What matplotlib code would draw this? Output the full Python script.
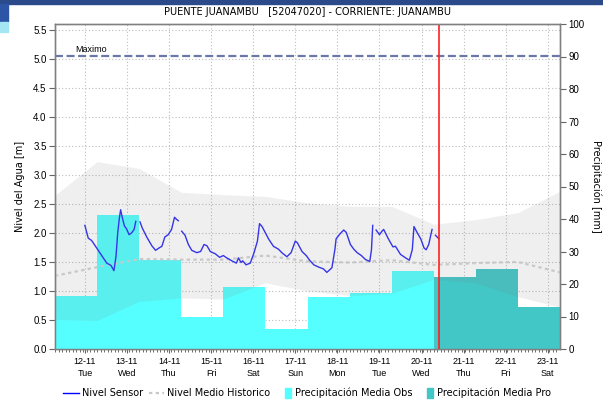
import numpy as np
import matplotlib.pyplot as plt
from matplotlib.patches import Rectangle
from matplotlib.lines import Line2D
from matplotlib.legend_handler import HandlerPatch

# days counted from 12-11 00:00
day_labels = ['12-11\nTue', '13-11\nWed', '14-11\nThu', '15-11\nFri', '16-11\nSat', '17-11\nSun',
              '18-11\nMon', '19-11\nTue', '20-11\nWed', '21-11\nThu', '22-11\nFri', '23-11\nSat']
t_start = -0.71
t_end = 11.29
t_now = 8.41

# daily precipitation [mm]
precip_obs = [16.4, 41.1, 27.4, 9.7, 19.2, 6.1, 16.0, 17.2, 24.1]
precip_pro = [22.2, 24.5, 13.0]

# historical level envelope at day boundaries [m]
hist_high = [2.65, 3.23, 3.11, 2.70, 2.66, 2.63, 2.52, 2.46, 2.46, 2.15, 2.23, 2.35, 2.72]
hist_low = [0.51, 0.49, 0.82, 0.88, 0.86, 1.14, 1.00, 0.92, 0.96, 1.20, 1.14, 0.90, 0.72]
hist_mean = [1.26, 1.41, 1.55, 1.54, 1.54, 1.61, 1.51, 1.49, 1.53, 1.45, 1.48, 1.50, 1.32]

nivel_max = 5.05

nan = np.nan
sensor_t = [0.00, 0.08, 0.16, 0.28, 0.40, 0.52, 0.62, 0.69, 0.74, 0.78, 0.82, 0.85, 0.89, 0.94,
            0.99, 1.05, 1.11, 1.17, 1.21, 1.26,
            1.31, 1.36, 1.47, 1.59, 1.68, 1.76, 1.83, 1.90, 1.98, 2.06, 2.13, 2.17, 2.22, 2.26,
            2.30, 2.38, 2.46, 2.54, 2.66, 2.75, 2.83, 2.90, 2.98, 3.10, 3.20, 3.29, 3.37, 3.49,
            3.60, 3.65, 3.71, 3.75, 3.83, 3.93, 4.02, 4.10, 4.15, 4.21, 4.29, 4.37, 4.48, 4.60,
            4.68, 4.80, 4.90, 5.00, 5.05, 5.16, 5.26, 5.34, 5.44, 5.56, 5.67, 5.75, 5.87, 5.94,
            5.97, 6.07, 6.15, 6.21, 6.31, 6.39, 6.47, 6.57, 6.67, 6.77, 6.81, 6.84, 6.88,
            6.92, 7.00, 7.06, 7.10, 7.21, 7.32, 7.38, 7.50, 7.62, 7.71, 7.78, 7.82, 7.90, 7.98,
            8.06, 8.11, 8.17, 8.24, 8.25, 8.29,
            8.33, 8.41]
sensor_h = [2.13, 1.91, 1.87, 1.74, 1.61, 1.48, 1.44, 1.35, 1.60, 2.00, 2.26, 2.40, 2.26, 2.12,
            2.07, 1.97, 2.00, 2.06, 2.20, nan,
            2.19, 2.09, 1.93, 1.78, 1.70, 1.74, 1.77, 1.93, 1.97, 2.06, 2.27, 2.24, 2.21, nan,
            2.03, 1.96, 1.80, 1.70, 1.66, 1.68, 1.80, 1.78, 1.68, 1.64, 1.58, 1.61, 1.57, 1.52,
            1.48, 1.57, 1.49, 1.52, 1.45, 1.48, 1.66, 1.86, 2.16, 2.11, 2.00, 1.89, 1.77, 1.72,
            1.66, 1.59, 1.66, 1.86, 1.83, 1.68, 1.61, 1.53, 1.45, 1.41, 1.38, 1.32, 1.40, 1.71,
            1.90, 1.99, 2.05, 2.01, 1.80, 1.72, 1.66, 1.61, 1.54, 1.51, 1.71, 2.13, nan,
            2.05, 1.97, 2.03, 2.06, 1.90, 1.76, 1.77, 1.63, 1.57, 1.53, 1.71, 2.11, 2.00, 1.90,
            1.74, 1.71, 1.80, 2.03, 2.06, nan,
            1.96, 1.90]

fig = plt.figure(figsize=(6.03, 4.04), dpi=100)
fig.patch.set_facecolor('white')

# header decoration
fig.patches.append(Rectangle((0, 1 - 4 / 404), 1, 4 / 404, transform=fig.transFigure,
                             color='#2B4A8A', zorder=0))
fig.patches.append(Rectangle((0, 1 - 22 / 404), 8 / 603, 18 / 404, transform=fig.transFigure,
                             color='#2C55A6', zorder=0))
fig.patches.append(Rectangle((0, 1 - 32 / 404), 8 / 603, 10 / 404, transform=fig.transFigure,
                             color='#A4E6F2', zorder=0))

rect = [55 / 603, 1 - 349 / 404, 505 / 603, 325 / 404]
ax = fig.add_axes(rect)        # level axis with grid
axp = ax.twinx()               # precipitation bars
axl = ax.twinx()               # level lines drawn above the bars
ax.set_zorder(0)
axp.set_zorder(1)
axl.set_zorder(2)
axp.patch.set_visible(False)
axl.patch.set_visible(False)

ylim = (0, 5.6)
for a in (ax, axl):
    a.set_ylim(*ylim)
    a.set_xlim(t_start, t_end)
axp.set_ylim(0, 100)

# grid and ticks
ax.set_yticks(np.arange(0, 5.51, 0.5))
ax.set_yticklabels(['%.1f' % v for v in np.arange(0, 5.51, 0.5)], fontsize=7,
                   family='Liberation Sans')
ax.set_xticks(np.arange(12))
ax.set_xticklabels(day_labels, fontsize=6.5, family='Liberation Sans', linespacing=1.35)
ax.set_xticks(np.arange(t_start, t_end, 1 / 12), minor=True)
ax.tick_params(axis='x', which='major', length=3, color='#666666', pad=3)
ax.tick_params(axis='x', which='minor', length=2, width=0.6, color='#555555')
ax.tick_params(axis='y', length=4, color='#666666', pad=2)
ax.grid(True, which='major', color='#BDBDBD', linestyle=(0, (1, 2)), linewidth=0.8)
ax.set_ylabel('Nivel del Agua [m]', fontsize=7, labelpad=6)

axp.set_yticks(np.arange(0, 101, 10))
axp.set_yticklabels([str(v) for v in range(0, 101, 10)], fontsize=7, family='Liberation Sans')
axp.tick_params(axis='y', length=4, color='#666666', pad=2)
axp.set_ylabel('Precipitación [mm]', fontsize=7, rotation=270, labelpad=12)
axl.set_yticks([])

for a in (ax, axp, axl):
    for s in a.spines.values():
        s.set_color('#808080')
        s.set_linewidth(0.9)

# precipitation bars
obs_x = t_start + np.arange(len(precip_obs))
pro_x = t_start + len(precip_obs) + np.arange(len(precip_pro))
axp.bar(obs_x, precip_obs, width=1.0, align='edge', color='#55FFFF', linewidth=0)
axp.bar(pro_x, precip_pro, width=1.0, align='edge', color='#42C6C6', linewidth=0)

# historical envelope and mean
hist_x = t_start + np.arange(len(hist_high))
axl.fill_between(hist_x, hist_low, hist_high, color='#808080', alpha=0.12, linewidth=0)
axl.plot(hist_x, hist_mean, color='#C8C8C8', linestyle=(0, (1.5, 1.5)), linewidth=1.6)

# sensor level
axl.plot(sensor_t, sensor_h, color='#3535E8', linewidth=1.0)

# maximum level and current time
axl.axhline(nivel_max, color='#6A78A8', linewidth=1.6, linestyle=(0, (3.6, 1.6)))
axl.text(t_start + 0.48, nivel_max + 0.04, 'Maximo', fontsize=6.5, family='Liberation Sans',
         va='bottom', ha='left')
axl.axvline(t_now, color='#FF2020', linewidth=1.2)

fig.text(308 / 603, 1 - 12 / 404, 'PUENTE JUANAMBU   [52047020] - CORRIENTE: JUANAMBU',
         ha='center', va='center', fontsize=7)


def thin_patch(legend, orig_handle, xdescent, ydescent, width, height, fontsize):
    return Rectangle((-xdescent + width * 0.55, -ydescent - height * 0.25), width * 0.42,
                     height * 1.5)


handles = [Line2D([], [], color='blue', linewidth=1.0),
           Line2D([], [], color='#C8C8C8', linewidth=1.6, linestyle=(0, (1.5, 1.5))),
           Rectangle((0, 0), 1, 1, color='#55FFFF'),
           Rectangle((0, 0), 1, 1, color='#42C6C6')]
labels = ['Nivel Sensor', 'Nivel Medio Historico', 'Precipitación Media Obs',
          'Precipitación Media Pro']
fig.legend(handles, labels, loc='center', bbox_to_anchor=(307 / 603, 1 - 393 / 404), ncol=4,
           frameon=False, fontsize=7, handlelength=1.6, handletextpad=0.3, columnspacing=0.6,
           handler_map={Rectangle: HandlerPatch(patch_func=thin_patch)})

fig.savefig('out.png', dpi=100)
